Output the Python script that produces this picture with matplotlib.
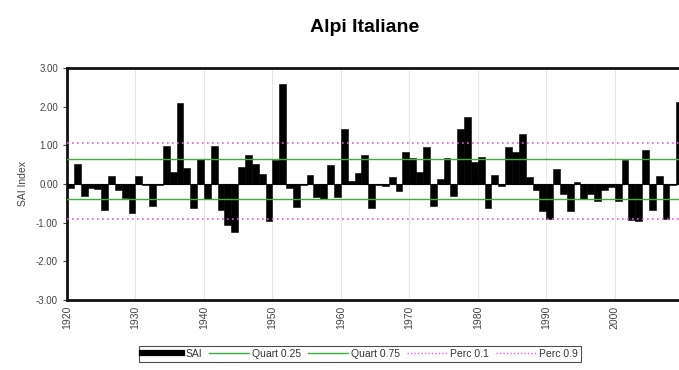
import matplotlib
matplotlib.use("Agg")
import matplotlib.pyplot as plt
from matplotlib.lines import Line2D
import numpy as np

plt.rcParams['font.family'] = ['Liberation Sans', 'DejaVu Sans']

# Standardized anomaly index, one value per year from 1920
years = np.arange(1920, 2010)
sai = [
    -0.10, 0.51, -0.31, -0.10, -0.14, -0.68, 0.20, -0.16, -0.35, -0.75,   # 1920s
    0.20, -0.02, -0.57, -0.02, 0.98, 0.30, 2.10, 0.42, -0.61, 0.64,       # 1930s
    -0.38, 0.97, -0.68, -1.05, -1.23, 0.44, 0.74, 0.53, 0.25, -0.96,      # 1940s
    0.61, 2.58, -0.11, -0.60, -0.02, 0.23, -0.34, -0.39, 0.50, -0.33,     # 1950s
    1.42, 0.07, 0.28, 0.75, -0.62, -0.03, -0.05, 0.18, -0.17, 0.83,       # 1960s
    0.67, 0.31, 0.96, -0.57, 0.14, 0.67, -0.32, 1.42, 1.72, 0.58,         # 1970s
    0.69, -0.61, 0.24, -0.04, 0.96, 0.83, 1.30, 0.17, -0.15, -0.70,       # 1980s
    -0.91, 0.40, -0.25, -0.69, 0.05, -0.38, -0.25, -0.43, -0.16, -0.09,   # 1990s
    -0.43, 0.63, -0.94, -0.96, 0.87, -0.66, 0.20, -0.91, -0.02, 2.12,     # 2000s
]

quart_25 = -0.38
quart_75 = 0.65
perc_10 = -0.90
perc_90 = 1.06

decades = np.arange(1920, 2001, 10)

fig = plt.figure(figsize=(6.79, 3.70), dpi=100)
# the plot area runs past the right edge of the image
ax = fig.add_axes([67 / 679, 70 / 370, 623 / 679, 232 / 370])

ax.bar(years, sai, width=1.0, align='edge', color='black', edgecolor='black',
       linewidth=0.4, zorder=3)
ax.axhline(0, color='black', lw=0.8, zorder=3)

green = '#3cae3c'
pink = '#e060e0'
ax.axhline(quart_25, color=green, lw=1.0, zorder=4)
ax.axhline(quart_75, color=green, lw=1.0, zorder=4)
ax.axhline(perc_10, color=pink, lw=1.2, ls=(0, (1, 2)), zorder=4)
ax.axhline(perc_90, color=pink, lw=1.2, ls=(0, (1, 2)), zorder=4)

ax.set_xlim(1920, 2011)
ax.set_ylim(-3, 3)
ax.set_yticks(np.arange(-3, 4, 1))
ax.set_yticklabels([f"{v:.2f}" for v in np.arange(-3, 4, 1)])
ax.set_xticks(decades)
ax.set_xticklabels([str(d) for d in decades], rotation=90)
ax.tick_params(axis='both', colors='#444444', length=3, width=0.8)
ax.tick_params(axis='y', labelsize=7)
ax.tick_params(axis='x', labelsize=7.5, length=0, pad=4)

ax.grid(axis='x', color='#e6e6e6', lw=0.8, zorder=0)
for side in ['left', 'bottom', 'top', 'right']:
    ax.spines[side].set_linewidth(2.0)
    ax.spines[side].set_color('#111111')

ax.set_ylabel("SAI Index", fontsize=7.5, color='#444444', labelpad=6)

fig.text(365 / 679, 1 - 27 / 370, "Alpi Italiane", ha='center', va='center',
         fontsize=14, fontweight='bold')

handles = [
    Line2D([], [], color='black', lw=4.5),
    Line2D([], [], color=green, lw=1),
    Line2D([], [], color=green, lw=1),
    Line2D([], [], color=pink, lw=1, ls=(0, (1, 1.5))),
    Line2D([], [], color=pink, lw=1, ls=(0, (1, 1.5))),
]
labels = ["SAI", "Quart 0.25", "Quart 0.75", "Perc 0.1", "Perc 0.9"]
leg = fig.legend(handles, labels, loc='center', bbox_to_anchor=(360 / 679, 1 - 354 / 370),
                 ncol=5, fontsize=7.5, frameon=True, fancybox=False, handlelength=3.8,
                 handletextpad=0.3, columnspacing=0.7, borderpad=0.3)
leg.get_frame().set_edgecolor('#222222')
leg.get_frame().set_linewidth(0.8)
for t in leg.get_texts():
    t.set_color('#333333')

fig.savefig("out.png", dpi=100)
